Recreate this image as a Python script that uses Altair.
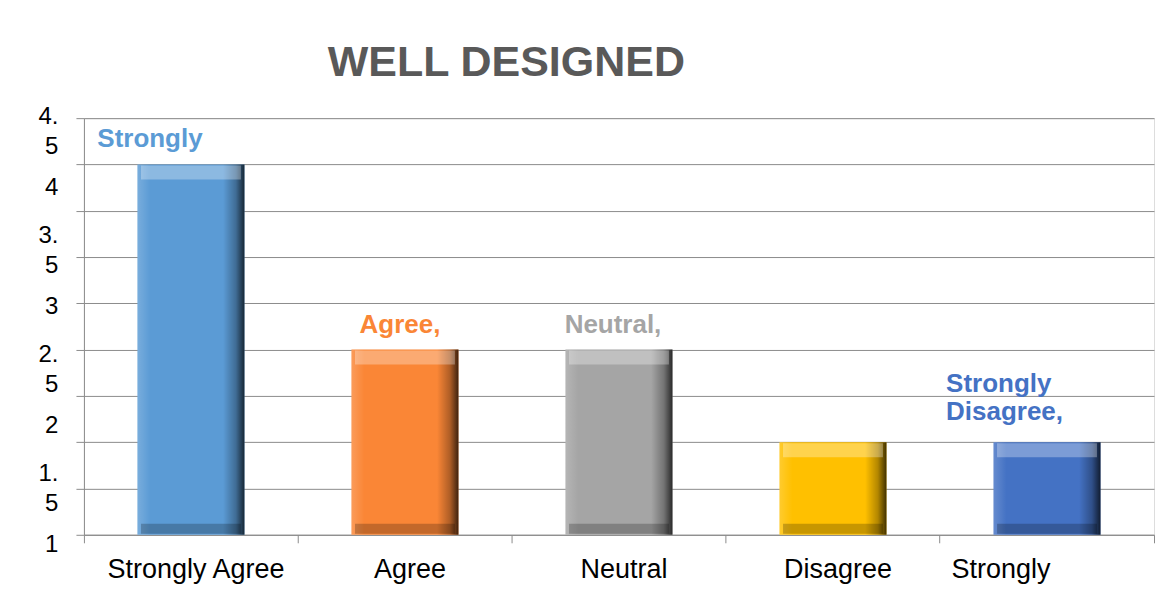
import altair as alt
import pandas as pd

categories = ["Strongly Agree", "Agree", "Neutral", "Disagree", "Strongly Disagree"]
counts = [4, 2, 2, 1, 1]
bar_colors = ["#5B9BD5", "#FA8636", "#A5A5A5", "#FFC000", "#4472C4"]
point_labels = ["Strongly", "Agree,", "Neutral,", "", "Strongly\nDisagree,"]
y_label_values = [1, 1.5, 2, 2.5, 3, 3.5, 4, 4.5]
y_grid_values = [0, 0.5, 1, 1.5, 2, 2.5, 3, 3.5, 4, 4.5]
title_text = "WELL DESIGNED"

FONT = "Liberation Sans"
GRID = "#8c8c8c"

df = pd.DataFrame({"cat": categories, "count": counts, "label": point_labels})
ydf = pd.DataFrame({"v": y_label_values})

x_scale = alt.Scale(domain=categories, paddingInner=0, paddingOuter=0)
y_scale = alt.Scale(domain=[0, 4.5], nice=False, zero=True)
color_scale = alt.Scale(domain=categories, range=bar_colors)

base = alt.Chart(df)

x_plain = alt.X("cat:N", sort=categories, scale=x_scale, axis=None, title=None)
y_plain = alt.Y("count:Q", scale=y_scale, axis=None, title=None)

bars = base.mark_bar(width=alt.RelativeBandSize(0.5)).encode(
    x=alt.X(
        "cat:N", sort=categories, scale=x_scale, title=None,
        axis=alt.Axis(
            orient="bottom", ticks=False, domain=True, domainColor=GRID,
            labelAngle=0, labelFontSize=27, labelColor="#000000", labelFont=FONT,
            labelPadding=22, grid=False,
            labelExpr="datum.value == 'Strongly Disagree' ? 'Strongly' : datum.label",
            labelOffset={"condition": {"test": "datum.value == 'Strongly Disagree'", "value": -46}, "value": 5},
        ),
    ),
    y=alt.Y(
        "count:Q", scale=y_scale, title=None,
        axis=alt.Axis(
            orient="left", values=y_grid_values, labels=False, grid=True,
            gridColor=GRID, gridWidth=1, ticks=True, tickSize=8, tickColor=GRID,
            domain=True, domainColor=GRID,
        ),
    ),
    color=alt.Color("cat:N", scale=color_scale, legend=None),
)

shade = base.mark_bar(
    width=alt.RelativeBandSize(0.5),
    color=alt.Gradient(
        gradient="linear", x1=0, x2=1, y1=0, y2=0,
        stops=[
            alt.GradientStop(color="rgba(255,255,255,0.18)", offset=0),
            alt.GradientStop(color="rgba(255,255,255,0)", offset=0.12),
            alt.GradientStop(color="rgba(0,0,0,0)", offset=0.8),
            alt.GradientStop(color="rgba(0,0,0,0.3)", offset=0.92),
            alt.GradientStop(color="rgba(0,0,0,0.75)", offset=1),
        ],
    ),
).encode(x=x_plain, y=y_plain)

top_bevel = base.mark_tick(color="white", opacity=0.3, thickness=14, size=100, yOffset=8).encode(
    x=x_plain, y=y_plain
)
bottom_bevel = base.mark_tick(color="black", opacity=0.22, thickness=10, size=100, yOffset=-6).encode(
    x=x_plain, y=alt.Y(datum=0, scale=y_scale, axis=None)
)

xticks = base.mark_point(opacity=0).encode(
    x=alt.X(
        "cat:N", sort=categories, scale=x_scale, title=None,
        axis=alt.Axis(
            orient="bottom", labels=False, domain=False, ticks=True, tickSize=8,
            tickColor=GRID, bandPosition=1, tickExtra=True, grid=False,
        ),
    ),
    y=y_plain,
)

ylab = alt.Chart(ydf).mark_point(opacity=0).encode(
    y=alt.Y(
        "v:Q", title=None,
        scale=alt.Scale(domain=[1, 4.5], nice=False, zero=False),
        axis=alt.Axis(
            orient="left", values=y_label_values, grid=False, ticks=False, domain=False,
            labelFontSize=24, labelColor="#000000", labelFont=FONT, labelPadding=26,
            labelOffset={"condition": {"test": "datum.value % 1", "value": -2}, "value": 10},
            labelLineHeight=30, labelFlush=False, labelOverlap=False,
            labelExpr="datum.value % 1 ? [format(floor(datum.value), 'd') + '.', '5'] : format(datum.value, 'd')",
        ),
    )
)


def data_label(cat, dx, dy, align="center"):
    return base.transform_filter(alt.datum.cat == cat).mark_text(
        align=align, baseline="bottom", dx=dx, dy=dy, fontSize=26,
        fontWeight="bold", font=FONT, lineBreak="\n", lineHeight=28,
    ).encode(
        x=x_plain, y=y_plain, text="label:N",
        color=alt.Color("cat:N", scale=color_scale, legend=None),
    )


labels = [
    data_label("Strongly Agree", -41, -12),
    data_label("Agree", -5, -12),
    data_label("Neutral", -6, -12),
    data_label("Strongly Disagree", -101, -45, align="left"),
]

chart = alt.layer(bars, shade, top_bevel, bottom_bevel, xticks, ylab, *labels).resolve_scale(
    y="independent"
).resolve_axis(x="independent").properties(
    width=1071,
    height=417,
    autosize=alt.AutoSizeParams(type="none"),
    padding={"left": 76, "top": 110, "right": 10, "bottom": 50},
    title=alt.Title(
        title_text, fontSize=43, fontWeight="bold", color="#595959", font=FONT,
        anchor="start", frame="group", dx=244, offset=-15, baseline="alphabetic",
    ),
).configure_view(stroke=None).configure(font=FONT, background="white")

chart.save("out.html", embed_options={"renderer": "svg", "actions": False})
